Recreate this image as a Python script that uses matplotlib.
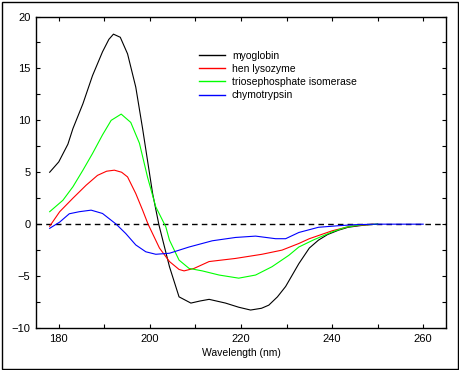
import matplotlib
matplotlib.use("Agg")
import matplotlib.pyplot as plt
from matplotlib.patches import Rectangle
from matplotlib.ticker import MultipleLocator

plt.rcParams['font.family'] = ['Liberation Sans', 'DejaVu Sans']

myo_x = [178, 180, 182, 183.1, 185.3, 187.4, 189.6, 191, 192, 193.5, 195.1, 196.9, 198.4, 200.6, 202,
         204.3, 206.4, 209, 211, 213, 216.6, 219.5, 222.1, 224.5, 226.1, 228, 229.8, 232.7, 235, 237,
         239, 241.4, 243.5, 245.8, 248, 250]
myo_y = [5.0, 6.0, 7.7, 9.2, 11.6, 14.3, 16.6, 17.8, 18.3, 18.0, 16.4, 13.2, 9.2, 2.95, -0.1,
         -4.1, -7.0, -7.6, -7.4, -7.24, -7.6, -8.0, -8.27, -8.1, -7.8, -7.0, -6.0, -3.8, -2.3, -1.54,
         -1.0, -0.58, -0.3, -0.16, -0.05, 0.0]

lys_x = [178, 180.2, 183.1, 186, 188.5, 190.5, 192.2, 193.8, 195.1, 196.9, 198.4, 199.6, 202.1, 204.3,
         206.4, 207.5, 209.7, 213, 218.8, 224.6, 229, 232.7, 235, 240, 244, 249]
lys_y = [-0.2, 1.2, 2.5, 3.75, 4.7, 5.1, 5.2, 5.0, 4.55, 2.95, 1.35, 0.0, -2.3, -3.6,
         -4.36, -4.5, -4.26, -3.6, -3.3, -2.9, -2.5, -1.86, -1.4, -0.64, -0.2, 0.0]

tim_x = [178, 180.9, 183.1, 185.3, 187.4, 189.6, 191.5, 193.7, 195.8, 197.7, 199.5, 201.3, 203.5,
         204.3, 206.4, 208.6, 211.5, 215.2, 219.5, 223.2, 226.8, 230.5, 232.7, 236, 240, 243, 246, 250]
tim_y = [1.2, 2.3, 3.6, 5.2, 6.8, 8.6, 10.0, 10.6, 9.8, 7.8, 4.5, 1.66, -0.26,
         -1.54, -3.46, -4.26, -4.5, -4.9, -5.2, -4.9, -4.1, -3.0, -2.2, -1.5, -0.75, -0.3, -0.08, 0.0]

chy_x = [178, 180.2, 182.3, 184.5, 187.1, 189.6, 192.6, 194.7, 196.9, 199.1, 201.3, 204.3, 208.6,
         213.7, 218.8, 223.2, 227.6, 229.8, 232.7, 237, 241.4, 245, 250, 255, 260]
chy_y = [-0.4, 0.2, 1.0, 1.2, 1.35, 1.03, 0.0, -0.9, -2.0, -2.66, -2.9, -2.8, -2.2,
         -1.6, -1.28, -1.15, -1.4, -1.4, -0.8, -0.3, -0.15, -0.05, 0.0, 0.0, 0.0]

labels = ["myoglobin", "hen lysozyme", "triosephosphate isomerase", "chymotrypsin"]
colors = ["#000000", "#ff0000", "#00ff00", "#0000ff"]

fig = plt.figure(figsize=(4.59, 3.70), dpi=100)
fig.patches.append(Rectangle((1.5/459, 1.5/370), 456/459, 367/370, transform=fig.transFigure,
                             fill=False, edgecolor='black', linewidth=1.0))
ax = fig.add_axes([36/459, 1 - 328/370, 410/459, 311.5/370])

ax.axhline(0, color='black', linestyle=(0, (4, 3)), linewidth=1.0, zorder=1)
for xs, ys, lab, c in zip([myo_x, lys_x, tim_x, chy_x], [myo_y, lys_y, tim_y, chy_y], labels, colors):
    ax.plot(xs, ys, color=c, linewidth=0.8, label=lab)

ax.set_xlim(175, 265)
ax.set_ylim(-10, 20)
ax.xaxis.set_major_locator(MultipleLocator(20))
ax.xaxis.set_minor_locator(MultipleLocator(10))
ax.yaxis.set_major_locator(MultipleLocator(5))
ax.yaxis.set_minor_locator(MultipleLocator(2.5))
ax.tick_params(which='both', direction='in', top=True, right=True, length=3, width=0.8,
               labelsize=8, pad=4)
for s in ax.spines.values():
    s.set_linewidth(1.0)
ax.set_xlabel("Wavelength (nm)", fontsize=7.5, labelpad=3)

leg = ax.legend(loc='upper left', bbox_to_anchor=(0.398, 0.8905), frameon=False, fontsize=7.5,
                handlelength=2.5, handletextpad=0.65, labelspacing=0.31, borderpad=0,
                borderaxespad=0)
for l in leg.get_lines():
    l.set_linewidth(1.0)

fig.savefig("out.png", dpi=100, facecolor='white')
